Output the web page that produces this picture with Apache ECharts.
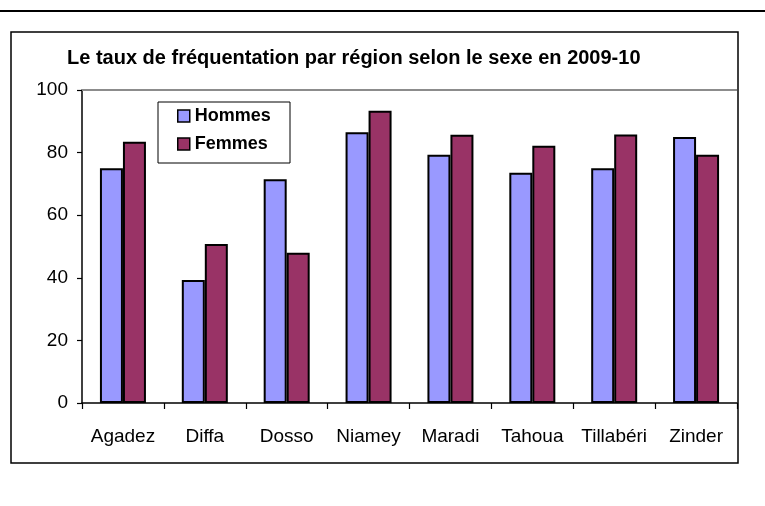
<!DOCTYPE html>
<html>
<head>
<meta charset="utf-8">
<script src="https://cdn.jsdelivr.net/npm/echarts@6/dist/echarts.min.js"></script>
<style>
  html, body { margin: 0; padding: 0; background: #fff; }
  #chart { width: 765px; height: 506px; }
</style>
</head>
<body>
<div id="chart"></div>
<script>
// données
var regions = ['Agadez', 'Diffa', 'Dosso', 'Niamey', 'Maradi', 'Tahoua', 'Tillabéri', 'Zinder'];
var hommes = [75, 39.3, 71.5, 86.5, 79.3, 73.6, 75, 85];
var femmes = [83.5, 50.8, 48, 93.4, 85.7, 82.2, 85.8, 79.3];
var yTicks = [0, 20, 40, 60, 80, 100];

var police = '"Liberation Sans", Arial, sans-serif';

var myChart = echarts.init(document.getElementById('chart'), null, { renderer: 'canvas' });

var option = {
    backgroundColor: '#fff',
    animation: false,
    title: {
        text: 'Le taux de fréquentation par région selon le sexe en 2009-10',
        left: 67,
        top: 48,
        padding: 0,
        textStyle: { fontFamily: police, fontSize: 20, fontWeight: 'bold', color: '#000' }
    },
    graphic: [
        // ligne en haut
        { type: 'line', shape: { x1: 0, y1: 11, x2: 765, y2: 11 }, style: { stroke: '#000', lineWidth: 2 }, z: 10 },
        // cadre du graphique
        { type: 'rect', shape: { x: 11, y: 32, width: 727, height: 431 }, style: { fill: 'none', stroke: '#000', lineWidth: 1.5 }, z: 10 },
        // cadre de la légende
        { type: 'rect', shape: { x: 158, y: 102, width: 132, height: 61 }, style: { fill: '#fff', stroke: '#000', lineWidth: 1 }, z: 10 }
    ],
    legend: {
        data: ['Hommes', 'Femmes'],
        orient: 'vertical',
        left: 177,
        top: 107,
        padding: 0,
        itemGap: 10,
        itemWidth: 12,
        itemHeight: 12,
        icon: 'rect',
        z: 20,
        itemStyle: { borderColor: '#000', borderWidth: 1.5 },
        textStyle: { fontFamily: police, fontSize: 18, fontWeight: 'bold', color: '#000', lineHeight: 18 }
    },
    grid: { left: 82, right: 28, top: 90, bottom: 103, containLabel: false },
    xAxis: {
        type: 'category',
        data: regions,
        axisLine: { lineStyle: { color: '#000', width: 1.5 } },
        axisTick: { show: true, length: 6, lineStyle: { color: '#000', width: 1.2 } },
        axisLabel: { fontFamily: police, fontSize: 19, color: '#000', margin: 24, interval: 0 }
    },
    yAxis: {
        type: 'value',
        min: yTicks[0],
        max: yTicks[yTicks.length - 1],
        interval: 20,
        axisLine: { show: true, lineStyle: { color: '#000', width: 1.5 } },
        axisTick: { show: true, length: 5, lineStyle: { color: '#000', width: 1.2 } },
        axisLabel: { fontFamily: police, fontSize: 19, color: '#000', margin: 14 },
        splitLine: { show: false }
    },
    series: [
        {
            name: 'Hommes',
            type: 'bar',
            data: hommes,
            barWidth: 23,
            barGap: '0%',
            itemStyle: { color: '#9999FF', borderColor: '#000', borderWidth: 2 },
            markLine: {
                silent: true,
                symbol: 'none',
                label: { show: false },
                lineStyle: { color: '#8c8c8c', width: 2, type: 'solid' },
                data: [{ yAxis: 100 }]
            }
        },
        {
            name: 'Femmes',
            type: 'bar',
            data: femmes,
            barWidth: 23,
            barGap: '0%',
            itemStyle: { color: '#993366', borderColor: '#000', borderWidth: 2 }
        }
    ]
};

myChart.setOption(option);
</script>
</body>
</html>
